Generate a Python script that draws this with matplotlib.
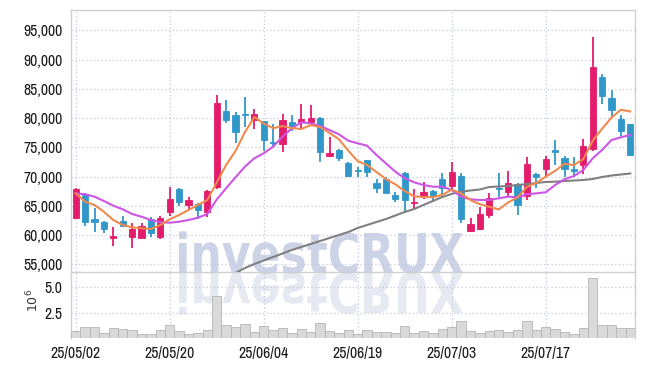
import matplotlib
matplotlib.use("Agg")
import matplotlib.pyplot as plt
import matplotlib.transforms as mtransforms
from matplotlib import font_manager as fm
from matplotlib.textpath import TextPath
from matplotlib.patches import PathPatch
from matplotlib.font_manager import FontProperties
import numpy as np

# ---------------- data ----------------
opens  = [63000, 67000, 62770, 62260, 59580, 62430, 59750, 59580, 62770, 59750,
          64020, 67900, 65110, 65340, 63920, 68190, 81230, 80550, 80770, 79740,
          79520, 75980, 75640, 79350, 79350, 79400, 80090, 73590, 74570, 72400,
          71150, 72860, 68980, 69560, 66870, 70580, 65450, 66700, 67560, 69610,
          68460, 70120, 60770, 61120, 63460, 68120, 67440, 68700, 66700, 70520,
          71260, 74570, 73150, 71320, 72000, 74680, 86990, 83400, 79860, 78960]
highs  = [68110, 67170, 64600, 62430, 61460, 63340, 62140, 62140, 63170, 63340,
          68290, 68070, 66480, 65450, 67680, 84020, 83060, 81010, 83680, 81520,
          79520, 78960, 80670, 80550, 82380, 82260, 80260, 76740, 74680, 72570,
          71710, 72900, 69560, 70000, 67440, 70860, 67850, 69150, 67730, 70580,
          72460, 70580, 62990, 64880, 67270, 70580, 71030, 68870, 73320, 70690,
          73540, 76270, 73540, 73320, 76390, 93830, 87550, 84820, 80550, 79000]
lows   = [62720, 61580, 60500, 60330, 58160, 61350, 57770, 59480, 59750, 59360,
          63290, 64990, 64310, 62770, 63120, 67850, 79130, 75810, 78550, 78100,
          74390, 75200, 74170, 77760, 78100, 78890, 72460, 73420, 72690, 70000,
          69900, 69900, 67170, 67270, 65730, 63850, 64650, 66190, 65630, 66310,
          67730, 62040, 60600, 60890, 62890, 66580, 66580, 63400, 66020, 68020,
          70000, 72000, 70000, 70000, 70460, 74450, 82430, 79980, 76960, 73600]
closes = [67900, 62200, 62310, 61120, 59920, 61630, 61010, 61580, 60430, 62940,
          66190, 65630, 66020, 64360, 67560, 82550, 79690, 77690, 80550, 80720,
          76270, 75710, 79690, 78670, 79910, 80090, 74220, 74100, 73250, 70170,
          71050, 70810, 68020, 67270, 66140, 66020, 65680, 67340, 66700, 68120,
          70750, 62770, 61920, 63630, 66310, 67900, 68870, 65170, 72170, 70000,
          72970, 74280, 71260, 71030, 75250, 88700, 83790, 81400, 77860, 73710]
volumes = [0.70, 1.06, 1.06, 0.47, 0.96, 0.87, 0.77, 0.40, 0.40, 0.77,
           1.29, 0.70, 0.40, 0.50, 0.77, 4.14, 1.29, 1.06, 1.39, 0.60,
           1.19, 0.80, 0.96, 0.50, 0.87, 0.60, 1.46, 0.70, 0.47, 0.77,
           0.40, 0.77, 0.60, 0.60, 0.50, 1.16, 0.50, 0.70, 0.50, 0.87,
           1.06, 1.65, 0.70, 0.50, 0.70, 0.77, 0.60, 0.77, 1.65, 0.77,
           1.06, 0.87, 0.60, 0.40, 0.96, 5.89, 1.29, 1.26, 0.96, 0.96]
ma5 = [67160, 65730, 65170, 64020, 62600, 61750, 61350, 61180, 61070, 61750,
       62720, 63460, 64310, 65170, 66020, 69000, 72000, 74400, 77600, 80200,
       79100, 78300, 78650, 78300, 78150, 78830, 78480, 77500, 76400, 74450,
       72650, 72000, 70800, 69600, 68700, 67550, 66650, 66530, 66500, 66900,
       67780, 67150, 66000, 65300, 64860, 64400, 65600, 66450, 68250, 68950,
       70000, 71000, 72200, 72000, 73000, 76150, 78200, 80100, 81450, 81150]
ma10 = [67160, 67000, 66590, 65850, 65050, 64430, 63630, 63170, 62600, 62210,
        62140, 62310, 62600, 62990, 63630, 66100, 68020, 69900, 71710, 73150,
        74000, 75130, 76840, 78270, 79300, 79130, 78670, 77980, 77250, 76150,
        75710, 75300, 73710, 72290, 70860, 69730, 69050, 68580, 68290, 68290,
        67730, 66590, 66140, 66020, 66020, 66310, 66590, 66480, 67000, 67160,
        67340, 68580, 69560, 70120, 71150, 73150, 74570, 76270, 76740, 77130]
ma60 = [None] * 16 + [
        52900, 53550, 54400, 55080, 55680, 56280, 56880, 57480, 58000, 58500,
        59010, 59530, 60040, 60550, 61240, 61750, 62260, 62770, 63370, 63970,
        64480, 65170, 65850, 66530, 67050, 67440, 67650, 67820, 68240, 68330,
        68410, 68580, 68750, 68930, 69100, 69150, 69270, 69350, 69440, 69610,
        69950, 70210, 70380, 70550]
tick_idx = [0, 10, 20, 30, 40, 50]
tick_labels = ["25/05/02", "25/05/20", "25/06/04", "25/06/19", "25/07/03", "25/07/17"]
price_ticks = [55000, 60000, 65000, 70000, 75000, 80000, 85000, 90000, 95000]
vol_ticks = [2.5, 5.0]

# ---------------- fonts ----------------
tick_font = None
tick_stretch = "normal"
tick_size = 9.4
for f in fm.fontManager.ttflist:
    nm = f.name
    if "Narrow" in nm or "Condensed" in nm:
        if "Bold" in f.fname or f.style != "normal":
            continue
        tick_font = nm
        tick_size = 11.3
        break
if tick_font is None:
    for f in fm.fontManager.ttflist:
        st = f.stretch
        if (isinstance(st, str) and "condensed" in st) or (isinstance(st, int) and st < 500):
            if f.style == "normal":
                tick_font = f.name
                tick_stretch = st
                tick_size = 11.3
                break
if tick_font is None:
    tick_font = "Roboto"
plt.rcParams["font.family"] = [tick_font, "DejaVu Sans"]
plt.rcParams["font.stretch"] = tick_stretch

UP = "#e31c6c"
DOWN = "#3197c9"
GRID = "#c3c9da"
SPINE = "#d0d0d0"
TXT = "#1a1a1a"

W, H = 645, 366
fig = plt.figure(figsize=(W / 100, H / 100), dpi=100)
fig.patch.set_facecolor("white")

L, R = 71, 635
T1, B1 = 10, 272
B2 = 338
ax = fig.add_axes([L / W, 1 - B1 / H, (R - L) / W, (B1 - T1) / H])
axv = fig.add_axes([L / W, 1 - B2 / H, (R - L) / W, (B2 - B1) / H], sharex=ax)
for a in (ax, axv):
    a.set_facecolor("none")

# watermark
fp = FontProperties(family="DejaVu Sans", weight="bold")
tp = TextPath((0, 0), "investCRUX", size=1, prop=fp)
bb = tp.get_extents()
x0, x1, base, cap = 179, 463, 273, 40
sx = (x1 - x0) / bb.width
sy = cap / 0.729
t_main = mtransforms.Affine2D().translate(-bb.x0, 0).scale(sx, sy).translate(x0, H - base)
t_refl = mtransforms.Affine2D().translate(-bb.x0, 0).scale(sx, -sy).translate(x0, H - base)
p1 = PathPatch(tp, transform=t_main, facecolor="#ccd3e6", edgecolor="none", zorder=-2)
p2 = PathPatch(tp, transform=t_refl, facecolor="#e6e9f1", edgecolor="none", zorder=-2)
fig.add_artist(p2)
fig.add_artist(p1)

x = np.arange(len(opens))
o = np.array(opens, float); c = np.array(closes, float)
hi = np.array(highs, float); lo = np.array(lows, float)
up = c >= o
cols = [UP if u else DOWN for u in up]

ax.vlines(x, lo, hi, colors=cols, linewidth=1.3, zorder=3)
ax.bar(x, np.abs(c - o), bottom=np.minimum(o, c), width=0.68, color=cols,
       edgecolor=cols, linewidth=0.6, zorder=4)

ax.plot(x, ma60, color="#808080", lw=1.5, zorder=5)
ax.plot(x, ma10, color="#cc55e6", lw=1.5, zorder=5)
ax.plot(x, ma5, color="#ef8a4e", lw=1.5, zorder=5)

ax.set_xlim(-0.5, len(opens) - 0.5)
ax.set_ylim(53716, 98491)
ax.set_yticks(price_ticks)
ax.set_yticklabels([f"{v:,}" for v in price_ticks])
ax.grid(True, color=GRID, linestyle=(0, (1, 2)), linewidth=0.9, zorder=0)
ax.set_axisbelow(True)
ax.tick_params(axis="y", length=0, pad=6, labelsize=tick_size, labelcolor=TXT)
ax.tick_params(axis="x", length=0, labelbottom=False)
for s in ax.spines.values():
    s.set_color(SPINE)
    s.set_linewidth(1.0)

axv.bar(x, volumes, width=1.0, color="#d9d9d9", edgecolor="#b5b5b5", linewidth=0.6, zorder=3)
axv.set_ylim(0, 6.5)
axv.set_yticks(vol_ticks)
axv.set_yticklabels(["2.5", "5.0"])
axv.set_xticks(tick_idx)
axv.set_xticklabels(tick_labels)
axv.grid(True, color=GRID, linestyle=(0, (1, 2)), linewidth=0.9, zorder=0)
axv.set_axisbelow(True)
axv.tick_params(axis="y", length=0, pad=6, labelsize=tick_size, labelcolor=TXT)
axv.tick_params(axis="x", length=0, pad=6, labelsize=tick_size, labelcolor=TXT)
for k, s in axv.spines.items():
    s.set_color(SPINE)
    s.set_linewidth(1.0)
axv.spines["bottom"].set_visible(False)
axv.spines["top"].set_visible(False)
axv.set_ylabel(r"$10^6$", fontsize=9, color="#333333", family="DejaVu Sans",
               va="center")
axv.yaxis.set_label_coords((33 - L) / (R - L), (B2 - 300) / (B2 - B1))

fig.savefig("out.png", dpi=100, facecolor="white")
